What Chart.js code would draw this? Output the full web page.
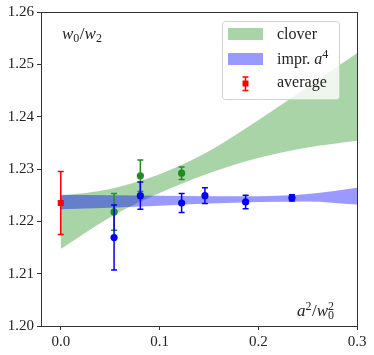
<!DOCTYPE html>
<html>
<head>
<meta charset="utf-8">
<script src="https://cdn.jsdelivr.net/npm/chart.js@4"></script>
<style>
  html, body { margin: 0; padding: 0; background: #fff; }
</style>
</head>
<body>
<canvas id="ratioChart" width="374" height="355"></canvas>
<script>
// band grid (a^2/w0^2)
const bandX = [0, 0.05, 0.1, 0.15, 0.2, 0.25, 0.3];
// clover fit band
const cloverLow = [1.2147, 1.2208, 1.2254, 1.2292, 1.2321, 1.2341, 1.2354];
const cloverHigh = [1.2249, 1.2262, 1.2290, 1.2334, 1.2393, 1.2457, 1.2521];
// improved a^4 fit band
const imprLow = [1.2223, 1.2226, 1.2230, 1.2234, 1.2237, 1.2238, 1.2232];
const imprHigh = [1.2251, 1.2250, 1.2249, 1.2248, 1.2248, 1.2252, 1.2264];

// lattice data
const cloverX = [0.054, 0.0806, 0.1224];
const cloverY = [1.2218, 1.2287, 1.2292];
const cloverErr = [0.0035, 0.0030, 0.0012];

const imprX = [0.054, 0.0806, 0.1224, 0.146, 0.1872, 0.2341];
const imprY = [1.2169, 1.2249, 1.2235, 1.2249, 1.2237, 1.2245];
const imprErr = [0.0062, 0.0026, 0.0018, 0.0015, 0.0013, 0.0006];

const avgX = [0];
const avgY = [1.2235];
const avgErr = [0.0060];

const yTicks = [1.20, 1.21, 1.22, 1.23, 1.24, 1.25, 1.26];
const xTicks = [0.0, 0.1, 0.2, 0.3];

const GREEN = 'forestgreen';
const BLUE = '#0000ff';
const RED = '#ff0000';
const SERIF = '"Liberation Serif", "DejaVu Serif", serif';

function pts(xs, ys) {
  return xs.map((x, i) => ({ x: x, y: ys[i] }));
}

function bandSet(ys, fill, color, order) {
  return {
    type: 'line',
    data: pts(bandX, ys),
    borderWidth: 0,
    borderColor: 'rgba(0,0,0,0)',
    pointRadius: 0,
    cubicInterpolationMode: 'monotone',
    backgroundColor: color,
    fill: fill,
    order: order
  };
}

// error bars drawn through the chart scales
const errorBars = {
  id: 'errorBars',
  afterDatasetsDraw(chart) {
    const ctx = chart.ctx;
    const xs = chart.scales.x, ys = chart.scales.y;
    const groups = [
      [cloverX, cloverY, cloverErr, GREEN],
      [imprX, imprY, imprErr, BLUE],
      [avgX, avgY, avgErr, RED]
    ];
    ctx.save();
    ctx.lineWidth = 1.5;
    groups.forEach(([gx, gy, ge, col]) => {
      ctx.strokeStyle = col;
      gx.forEach((x, i) => {
        const px = xs.getPixelForValue(x);
        const top = ys.getPixelForValue(gy[i] + ge[i]);
        const bot = ys.getPixelForValue(gy[i] - ge[i]);
        ctx.beginPath();
        ctx.moveTo(px, top); ctx.lineTo(px, bot);
        ctx.moveTo(px - 3, top); ctx.lineTo(px + 3, top);
        ctx.moveTo(px - 3, bot); ctx.lineTo(px + 3, bot);
        ctx.stroke();
      });
    });
    ctx.restore();
  }
};

function drawParts(ctx, x, y, parts) {
  parts.forEach(p => {
    ctx.font = p.font;
    ctx.fillText(p.t, x, y + (p.dy || 0));
    if (!p.stay) x += ctx.measureText(p.t).width + (p.gap || 0);
  });
  return x;
}

const decorations = {
  id: 'decorations',
  afterDraw(chart) {
    const ctx = chart.ctx;
    const a = chart.chartArea;
    ctx.save();
    // frame
    ctx.strokeStyle = '#333';
    ctx.lineWidth = 1;
    ctx.strokeRect(Math.round(a.left) + 0.5, Math.round(a.top) + 0.5,
      Math.round(a.right - a.left), Math.round(a.bottom - a.top));

    ctx.fillStyle = '#222';
    ctx.textBaseline = 'alphabetic';
    const it = 'italic 17px ' + SERIF;
    const rm = '17px ' + SERIF;
    const sm = '12px ' + SERIF;
    // w0/w2
    drawParts(ctx, 62, 39, [
      { t: 'w', font: it }, { t: '0', font: sm, dy: 3, gap: 0.5 },
      { t: '/', font: rm }, { t: 'w', font: it }, { t: '2', font: sm, dy: 3 }
    ]);
    // a^2/w0^2
    drawParts(ctx, 297, 316, [
      { t: 'a', font: it }, { t: '2', font: sm, dy: -6, gap: 0.5 },
      { t: '/', font: rm }, { t: 'w', font: it },
      { t: '2', font: sm, dy: -6, stay: true }, { t: '0', font: sm, dy: 3 }
    ]);

    // legend
    const lx = 222, ly = 21, lw = 117, lh = 78;
    ctx.beginPath();
    ctx.roundRect(lx + 0.5, ly + 0.5, lw, lh, 3);
    ctx.fillStyle = 'rgba(255,255,255,0.8)';
    ctx.fill();
    ctx.strokeStyle = '#d0d0d0';
    ctx.stroke();

    ctx.fillStyle = 'rgba(0,128,0,0.34)';
    ctx.fillRect(228, 28, 35, 12);
    ctx.fillStyle = 'rgba(0,0,255,0.4)';
    ctx.fillRect(228, 53, 35, 12);
    // average marker
    ctx.strokeStyle = RED;
    ctx.lineWidth = 1.5;
    ctx.beginPath();
    ctx.moveTo(245.5, 77); ctx.lineTo(245.5, 90.5);
    ctx.moveTo(242.5, 77); ctx.lineTo(248.5, 77);
    ctx.moveTo(242.5, 90.5); ctx.lineTo(248.5, 90.5);
    ctx.stroke();
    ctx.fillStyle = RED;
    ctx.fillRect(242.5, 80.5, 6, 6);

    const lf = '16px ' + SERIF;
    const lfi = 'italic 16px ' + SERIF;
    ctx.fillStyle = '#222';
    drawParts(ctx, 277, 39, [{ t: 'clover', font: lf }]);
    drawParts(ctx, 277, 64, [
      { t: 'impr. ', font: lf }, { t: 'a', font: lfi }, { t: '4', font: sm, dy: -6 }
    ]);
    drawParts(ctx, 277, 87, [{ t: 'average', font: lf }]);
    ctx.restore();
  }
};

new Chart(document.getElementById('ratioChart'), {
  type: 'scatter',
  data: {
    datasets: [
      bandSet(cloverLow, false, 'rgba(0,128,0,0.34)', 3),
      bandSet(cloverHigh, '-1', 'rgba(0,128,0,0.34)', 3),
      bandSet(imprLow, false, 'rgba(0,0,255,0.4)', 2),
      bandSet(imprHigh, '-1', 'rgba(0,0,255,0.4)', 2),
      {
        data: pts(cloverX, cloverY),
        pointRadius: 3.6, pointBorderWidth: 0,
        backgroundColor: GREEN, order: 1
      },
      {
        data: pts(imprX, imprY),
        pointRadius: 3.6, pointBorderWidth: 0,
        backgroundColor: BLUE, order: 1
      },
      {
        data: pts(avgX, avgY),
        pointStyle: 'rect', pointRadius: 4.3, pointBorderWidth: 0,
        backgroundColor: RED, order: 0
      }
    ]
  },
  options: {
    responsive: false,
    animation: false,
    devicePixelRatio: 1,
    layout: { padding: { top: 12, right: 17, left: 0, bottom: 0 } },
    plugins: {
      legend: { display: false },
      tooltip: { enabled: false }
    },
    scales: {
      x: {
        type: 'linear',
        min: -0.02, max: 0.3,
        afterBuildTicks: s => { s.ticks = xTicks.map(v => ({ value: v })); },
        afterFit: s => { s.height = 29; },
        grid: { drawOnChartArea: false, drawTicks: true, tickLength: 4, color: '#333' },
        border: { display: true, color: '#333' },
        ticks: {
          color: '#222', padding: 3,
          font: { family: SERIF, size: 15 },
          callback: v => Number(v).toFixed(1)
        }
      },
      y: {
        min: 1.20, max: 1.26,
        afterBuildTicks: s => { s.ticks = yTicks.map(v => ({ value: v })); },
        afterFit: s => { s.width = 41; },
        grid: { drawOnChartArea: false, drawTicks: true, tickLength: 4, color: '#333' },
        border: { display: true, color: '#333' },
        ticks: {
          color: '#222', padding: 3,
          font: { family: SERIF, size: 15 },
          callback: v => Number(v).toFixed(2)
        }
      }
    }
  },
  plugins: [errorBars, decorations]
});
</script>
</body>
</html>
